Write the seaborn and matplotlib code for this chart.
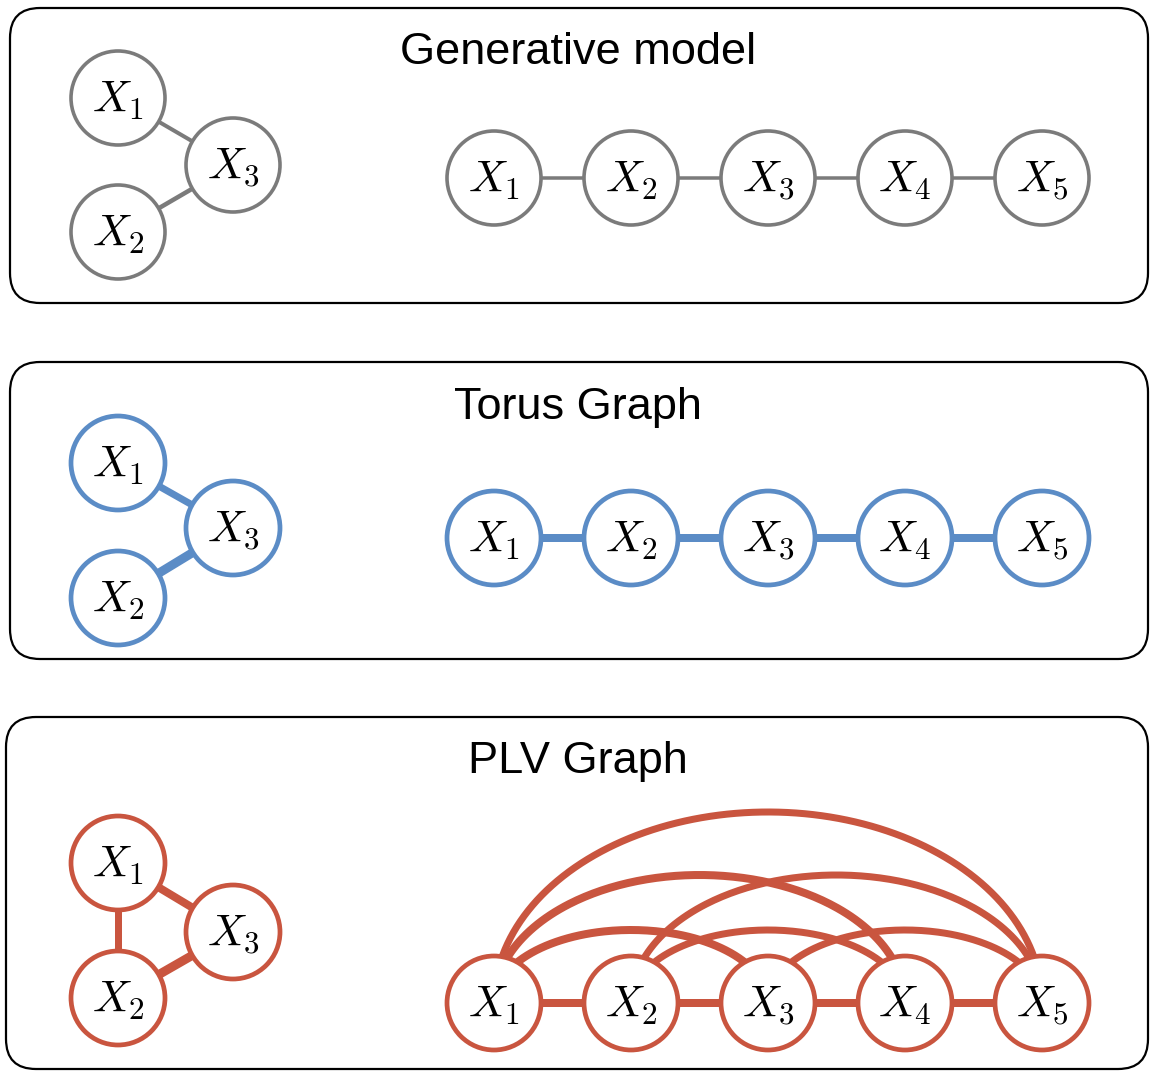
"""Generative model vs Torus graph vs PLV graph network diagrams."""

import matplotlib
matplotlib.use("Agg")
import matplotlib.pyplot as plt
import numpy as np
import pandas as pd
import seaborn as sns
from matplotlib.patches import Circle, FancyBboxPatch

# ---- data -----------------------------------------------------------------
panel_titles = ["Generative model", "Torus Graph", "PLV Graph"]
panel_colors = ["#7b7b7b", "#5b8cc6", "#c9553f"]
node_labels = ["X_1", "X_2", "X_3", "X_4", "X_5"]

# small three-node graph (edges and their strengths, per panel)
tri_edges = [(0, 2), (1, 2), (0, 1)]
tri_weights = [
    [4.0, 4.5, 0.0],
    [7.0, 9.0, 0.0],
    [8.0, 9.0, 7.0],
]

# five-node chain graph: neighbour edges and long-range edges
chain_edges = [(0, 1), (1, 2), (2, 3), (3, 4)]
chain_weights = [
    [3.5, 3.5, 3.5, 3.5],
    [8.0, 8.0, 8.0, 8.0],
    [8.0, 8.0, 8.0, 8.0],
]
arc_edges = [(0, 4), (0, 3), (1, 4), (0, 2), (1, 3), (2, 4)]
arc_weights = [7.0, 8.0, 7.0, 8.0, 7.0, 7.0]
arc_heights = [191, 128, 128, 73, 73, 73]

# ---- layout (pixels) ------------------------------------------------------
W, H = 1150, 1072
boxes = [(10, 8, 1138, 295), (10, 362, 1138, 297), (6, 717, 1142, 352)]
title_y = [53, 407, 761]
tri_x = [118, 118, 233]
tri_y = [[98, 232, 165], [463, 598, 528], [863, 998, 932]]
chain_x = [494, 631, 768, 905, 1042]
chain_y = [178, 538, 1003]
node_r = 47
node_lw = [2.6, 3.4, 3.4]
PX = 0.72  # pixel -> point

sns.set_theme(style="white")
plt.rcParams["font.family"] = ["Liberation Sans", "DejaVu Sans"]
plt.rcParams["mathtext.fontset"] = "cm"

fig = plt.figure(figsize=(W / 100, H / 100), dpi=100)
ax = fig.add_axes([0, 0, 1, 1])
ax.set_xlim(0, W)
ax.set_ylim(H, 0)
ax.set_axis_off()


def draw_edge(x, y, color, width):
    df = pd.DataFrame({"x": x, "y": y, "i": np.arange(len(x))})
    sns.lineplot(data=df, x="x", y="y", sort=False, estimator=None,
                 color=color, linewidth=width * PX, ax=ax, zorder=2,
                 solid_capstyle="butt")


def draw_node(x, y, label, color, lw):
    ax.add_patch(Circle((x, y), node_r, facecolor="white", edgecolor=color,
                        linewidth=lw, zorder=3))
    ax.text(x, y + 3, f"${label}$", ha="center", va="center", fontsize=32,
            color="black", zorder=4)


for p, title in enumerate(panel_titles):
    color = panel_colors[p]
    bx, by, bw, bh = boxes[p]
    ax.add_patch(FancyBboxPatch((bx, by), bw, bh,
                                boxstyle="round,pad=0,rounding_size=30",
                                facecolor="white", edgecolor="black",
                                linewidth=1.6, zorder=1))
    ax.text(578, title_y[p], title, ha="center", va="center", fontsize=32.5,
            color="black", zorder=4)

    # three-node graph
    for (a, b), w in zip(tri_edges, tri_weights[p]):
        if w > 0:
            draw_edge([tri_x[a], tri_x[b]], [tri_y[p][a], tri_y[p][b]], color, w)
    for i in range(3):
        draw_node(tri_x[i], tri_y[p][i], node_labels[i], color, node_lw[p])

    # chain graph
    cy = chain_y[p]
    for (a, b), w in zip(chain_edges, chain_weights[p]):
        draw_edge([chain_x[a], chain_x[b]], [cy, cy], color, w)
    if p == 2:
        t = np.linspace(0, np.pi, 200)
        for (a, b), w, h in zip(arc_edges, arc_weights, arc_heights):
            mid = (chain_x[a] + chain_x[b]) / 2
            half = (chain_x[b] - chain_x[a]) / 2
            draw_edge(mid - half * np.cos(t), cy - h * np.sin(t), color, w)
    for i in range(5):
        draw_node(chain_x[i], cy, node_labels[i], color, node_lw[p])

fig.savefig("out.png", dpi=100)
plt.close(fig)
